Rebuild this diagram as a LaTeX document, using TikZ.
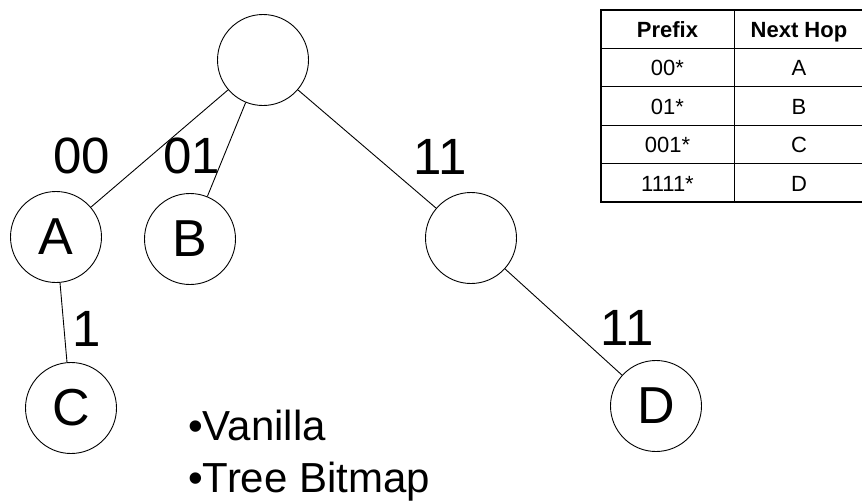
\documentclass[tikz,border=0pt]{standalone}
\usepackage{fontspec}
\setmainfont{Liberation Sans}
\begin{document}
\begin{tikzpicture}[x=1pt,y=-1pt,
  tnode/.style={circle,draw,line width=0.9pt,minimum size=91pt,inner sep=0pt,font=\fontsize{52}{52}\selectfont},
  edge/.style={line width=0.9pt},
  elabel/.style={anchor=base,inner sep=0pt,font=\fontsize{51}{51}\selectfont},
  bulletitem/.style={anchor=base west,inner sep=0pt,font=\fontsize{42}{42}\selectfont},
  thead/.style={anchor=base,inner sep=0pt,font=\fontsize{22}{22}\selectfont\bfseries},
  tcell/.style={anchor=base,inner sep=0pt,font=\fontsize{22}{22}\selectfont},
  thinrule/.style={line width=1pt},
  thickrule/.style={line width=2.5pt},
]
\useasboundingbox (0,0) rectangle (862,501);

% tree nodes
\node[tnode] (root) at (263,60) {};
\node[tnode] (A) at (56,237) {A};
\node[tnode] (B) at (190,239) {B};
\node[tnode] (R) at (471,238) {};
\node[tnode] (C) at (71,408) {C};
\node[tnode] (D) at (656,406) {D};

% edges
\draw[edge] (root) -- (A);
\draw[edge] (root) -- (B);
\draw[edge] (root) -- (R);
\draw[edge] (A) -- (C);
\draw[edge] (R) -- (D);

% edge labels
\node[elabel] (l00) at (82,173) {00};
\node[elabel] (l01) at (192,173) {01};
\node[elabel] (l11a) at (440,174) {11};
\node[elabel] (l1) at (87,346) {1};
\node[elabel] (l11b) at (627,345) {11};

% bullet text
\node[bulletitem] (van) at (188,440) {•Vanilla};
\node[bulletitem] (tbm) at (188,492) {•Tree Bitmap};

% table
\draw[thinrule] (734,10) -- (734,202);
\foreach \yy in {48.4,86.8,125.2,163.6} \draw[thinrule] (601,\yy) -- (864,\yy);
\draw[thickrule] (601,10) rectangle (864,202);

\node[thead] (h1) at (667.5,37.5) {Prefix};
\node[thead] (h2) at (799,37.5) {Next Hop};
\node[tcell] (p1) at (667.5,75.9) {00*};
\node[tcell] (n1) at (799,75.9) {A};
\node[tcell] (p2) at (667.5,114.3) {01*};
\node[tcell] (n2) at (799,114.3) {B};
\node[tcell] (p3) at (667.5,152.7) {001*};
\node[tcell] (n3) at (799,152.7) {C};
\node[tcell] (p4) at (667.5,191.1) {1111*};
\node[tcell] (n4) at (799,191.1) {D};
\end{tikzpicture}
\end{document}
